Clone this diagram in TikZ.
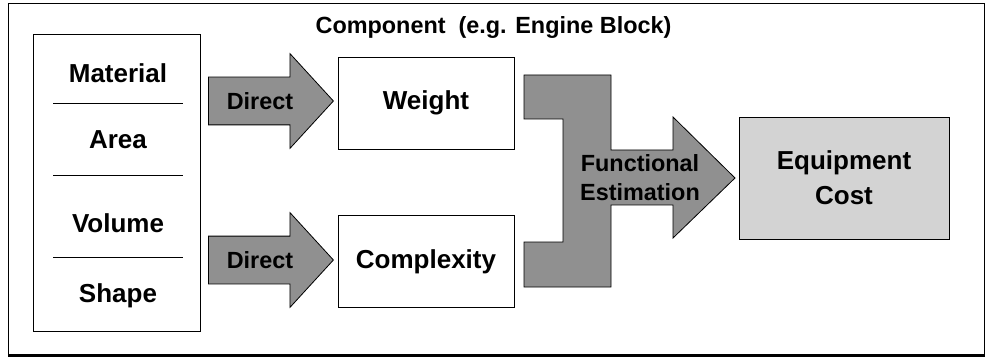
\documentclass[tikz,border=0pt]{standalone}
\usepackage{fontspec}
\setmainfont{Liberation Sans}
\usetikzlibrary{shapes.arrows}
\definecolor{arrowgray}{RGB}{144,144,144}
\definecolor{costgray}{RGB}{211,211,211}
\newcommand{\bigtext}{\fontsize{26}{35}\selectfont\bfseries}
\newcommand{\smalltext}{\fontsize{23.4}{29}\selectfont\bfseries}
\begin{document}
\begin{tikzpicture}[x=1pt,y=-1pt,line width=0.8pt,
	box/.style={rectangle, draw, fill=white, inner sep=0pt, minimum width=176pt, minimum height=92pt, font=\bigtext},
	label/.style={inner sep=0pt, font=\bigtext},
	blockarrow/.style={single arrow, draw, fill=arrowgray, anchor=tail, inner xsep=0pt, inner ysep=15pt, text height=17pt, text depth=0pt,
		minimum height=125pt, minimum width=94pt, single arrow head extend=23.5pt, single arrow tip angle=95, font=\smalltext}]
	\useasboundingbox (0,0) rectangle (985,358);
	% outer frame
	\draw (8,3) rectangle (984,355);
	\draw[line width=2.5pt] (8,355.5) -- (984.5,355.5);
	\node (title) at (493.5, 28)	[inner sep=0pt, font=\smalltext]	{Component\ \ (e.g. Engine Block)};
	% attribute list
	\node (attrs) at (116.5, 182.5)	[rectangle, draw, minimum width=167pt, minimum height=297pt]	{};
	\node (mat) at (118,  73)	[label]	{Material};
	\node (are) at (118, 140)	[label]	{Area};
	\node (vol) at (118, 223)	[label]	{Volume};
	\node (sha) at (118, 296)	[label]	{Shape};
	\draw[line width=0.5pt] (53,103) -- (183,103);
	\draw[line width=0.5pt] (53,175) -- (183,175);
	\draw[line width=0.5pt] (53,257) -- (183,257);
	% direct estimation
	\node (A1) at (208, 101)	[blockarrow]	{Direct};
	\node (A2) at (208, 260)	[blockarrow]	{Direct};
	\node (W) at (426, 103)	[box]	{Weight};
	\node (C) at (426, 261.5)	[box]	{Complexity};
	% functional estimation
	\filldraw[fill=arrowgray] (524,75) -- (611,75) -- (611,150) -- (673,150) -- (673,117) -- (735,178)
		-- (673,238) -- (673,205) -- (611,205) -- (611,287) -- (524,287) -- (524,242) -- (563,242)
		-- (563,119) -- (524,119) -- cycle;
	\node (F) at (640, 177.5)	[inner sep=0pt, align=center, font=\smalltext]	{Functional\\Estimation};
	\node (E) at (844, 178)	[box, fill=costgray, minimum width=210pt, minimum height=122pt, align=center]	{Equipment\\Cost};
\end{tikzpicture}
\end{document}
